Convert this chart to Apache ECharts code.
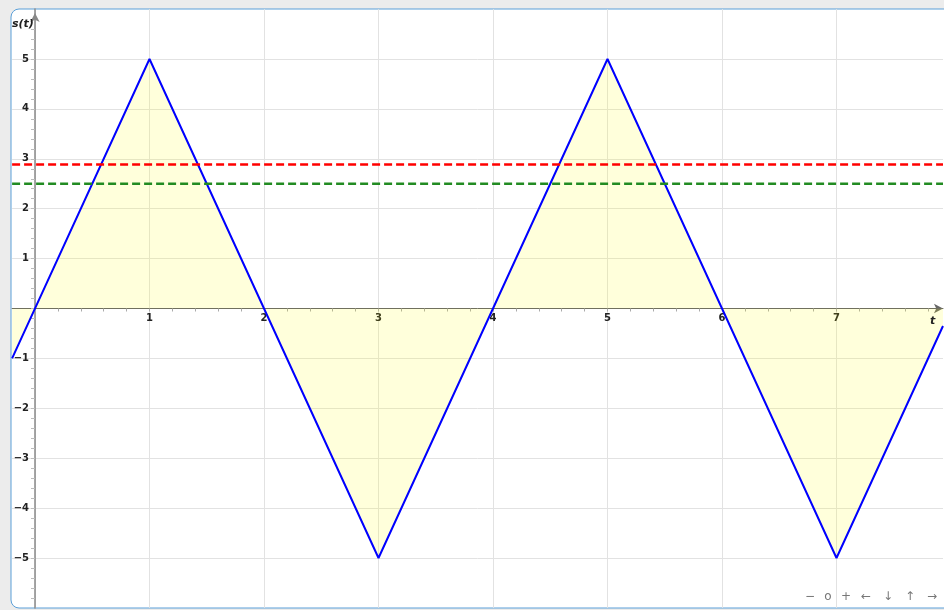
<!DOCTYPE html>
<html>
<head>
<meta charset="utf-8">
<script src="https://cdn.jsdelivr.net/npm/echarts@6/dist/echarts.min.js"></script>
<style>
  html, body { margin: 0; padding: 0; background: #fff; }
  #chart { width: 944px; height: 610px; }
</style>
</head>
<body>
<div id="chart"></div>
<script>
// triangle wave s(t), corner points
const waveT = [-0.2, 1, 3, 5, 7, 7.93];
const waveS = [-1, 5, -5, 5, -5, -0.35];

// horizontal reference levels
const rmsLevel = 2.887;   // red dashed
const meanAbsLevel = 2.5; // green dashed

const tMin = -0.2;
const tMax = 7.93;
const sMin = -6;
const sMax = 6;

const navLabels = ['−', 'o', '+', '←', '↓', '↑', '→'];
const navX = [810, 828, 846, 866, 888, 910, 932];

const pxT = 114.5; // px per unit of t
const pxS = 49.9;  // px per unit of s

const chart = echarts.init(document.getElementById('chart'), null, { renderer: 'canvas' });

const wavePoints = waveT.map((t, i) => [t, waveS[i]]);
const levelLine = (v) => [[tMin, v], [tMax, v]];

const intLabel = (v) => {
  const r = Math.round(v);
  if (Math.abs(v - r) > 1e-6 || r === 0) return '';
  return String(r).replace('-', '−');
};

const gridGray = '#e2e2e2';
const none = 'rgba(0,0,0,0)';
const labelStyle = {
  fontFamily: 'DejaVu Sans',
  fontSize: 10,
  fontWeight: 'bold',
  color: '#222',
};

const option = {
  animation: false,
  backgroundColor: '#ececec',
  grid: {
    left: 12.1,
    top: 9.1,
    width: (tMax - tMin) * pxT,
    height: (sMax - sMin) * pxS,
    containLabel: false,
    outerBoundsMode: 'none',
  },
  xAxis: {
    type: 'value',
    min: tMin,
    max: tMax,
    interval: 0.2,
    position: 'bottom',
    offset: -(0 - sMin) * pxS,
    axisLine: {
      onZero: false,
      symbol: ['none', 'arrow'],
      symbolSize: [7, 9],
      lineStyle: { color: '#666', width: 1 },
    },
    axisTick: { length: 3, lineStyle: { color: '#aaa' } },
    axisLabel: Object.assign({ margin: 5, formatter: intLabel, showMaxLabel: false, showMinLabel: false }, labelStyle),
    splitLine: {
      show: true,
      showMinLine: false,
      showMaxLine: false,
      lineStyle: { color: [gridGray, none, none, none, none], width: 1 },
    },
  },
  yAxis: {
    type: 'value',
    min: sMin,
    max: sMax,
    interval: 0.2,
    position: 'left',
    offset: -(0 - tMin) * pxT,
    axisLine: {
      onZero: false,
      symbol: ['none', 'arrow'],
      symbolSize: [7, 9],
      symbolOffset: [0, -4],
      lineStyle: { color: '#888', width: 1.5 },
    },
    axisTick: { length: 4, lineStyle: { color: '#bbb' } },
    axisLabel: Object.assign({ margin: 6, formatter: intLabel, showMaxLabel: false, showMinLabel: false }, labelStyle),
    splitLine: {
      show: true,
      showMinLine: false,
      showMaxLine: false,
      lineStyle: { color: [none, none, none, none, gridGray], width: 1 },
    },
  },
  series: [
    {
      name: 's(t)',
      type: 'line',
      data: wavePoints,
      symbol: 'none',
      z: 3,
      lineStyle: { color: '#0000ff', width: 2 },
      areaStyle: { color: 'rgba(255,255,0,0.2)', origin: 0 },
    },
    {
      name: 'rms',
      type: 'line',
      data: levelLine(rmsLevel),
      symbol: 'none',
      z: 4,
      lineStyle: { color: '#ff0000', width: 2.5, type: [8, 4] },
    },
    {
      name: 'mean abs',
      type: 'line',
      data: levelLine(meanAbsLevel),
      symbol: 'none',
      z: 4,
      lineStyle: { color: '#228b22', width: 2.5, type: [8, 4] },
    },
  ],
  graphic: [
    {
      type: 'rect',
      z: -10,
      silent: true,
      shape: { x: 11, y: 9, width: 960, height: 599, r: 8 },
      style: { fill: '#fff', stroke: '#5a9fd8', lineWidth: 1 },
    },
    {
      type: 'text',
      left: 12,
      top: 19,
      z: 10,
      style: { text: 's(t)', font: 'italic bold 11px "DejaVu Sans"', fill: '#222' },
    },
    {
      type: 'text',
      left: 930,
      top: 316,
      z: 10,
      style: { text: 't', font: 'italic bold 11px "DejaVu Sans"', fill: '#222' },
    },
  ].concat(navLabels.map((s, i) => ({
    type: 'text',
    x: navX[i],
    y: 597,
    z: 10,
    style: {
      text: s,
      font: '12px "DejaVu Sans"',
      fill: '#777',
      align: 'center',
      verticalAlign: 'middle',
    },
  }))),
};

chart.setOption(option);
</script>
</body>
</html>
